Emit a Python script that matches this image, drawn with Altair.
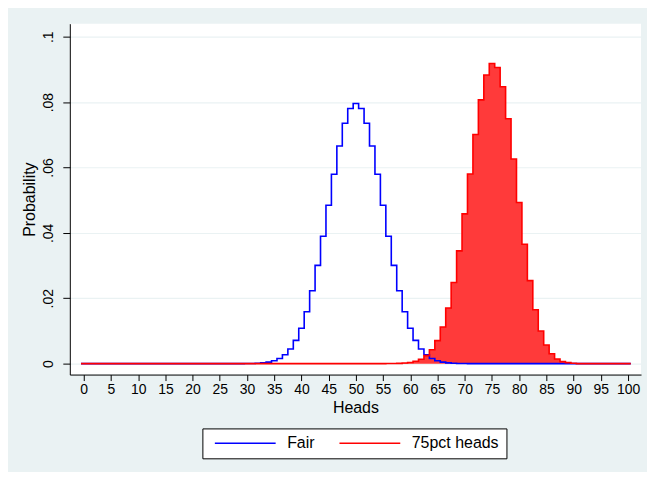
import altair as alt
import pandas as pd

# ---- data ----
heads = list(range(101))

fair = (
    [0.0] * 29
    + [0.00001, 0.000023, 0.000052, 0.000113, 0.000232, 0.000458, 0.000864,
       0.00156, 0.002698, 0.004473, 0.007111, 0.010844, 0.015869, 0.022292,
       0.030069, 0.038953, 0.048474, 0.057958, 0.06659, 0.073527, 0.078028,
       0.079589,
       0.078028, 0.073527, 0.06659, 0.057958, 0.048474, 0.038953, 0.030069,
       0.022292, 0.015869, 0.010844, 0.007111, 0.004473, 0.002698, 0.00156,
       0.000864, 0.000458, 0.000232, 0.000113, 0.000052, 0.000023, 0.00001]
    + [0.0] * 29
)

p75 = (
    [0.0] * 56
    + [0.00002, 0.00004, 0.00008, 0.00018, 0.00036, 0.00071, 0.00135, 0.00244,
       0.00423, 0.00703, 0.0112, 0.0170, 0.0248, 0.0345, 0.0458, 0.0580,
       0.0701, 0.0807, 0.0883, 0.0918, 0.0906, 0.0847, 0.0749, 0.0626,
       0.0493, 0.0365, 0.0254, 0.0165, 0.0100, 0.0057, 0.0030, 0.0014,
       0.0006, 0.0003, 0.0001]
    + [0.0] * 10
)

series_names = ["Fair", "75pct heads"]
x_ticks = list(range(0, 101, 5))
y_ticks = [0, 0.02, 0.04, 0.06, 0.08, 0.1]


def step_rows(name, vals):
    rows = [{"x": k - 0.5, "y": v, "series": name} for k, v in zip(heads, vals)]
    rows.append({"x": heads[-1] + 0.5, "y": vals[-1], "series": name})
    return rows


df_fair = pd.DataFrame(step_rows(series_names[0], fair))
df_p75 = pd.DataFrame(step_rows(series_names[1], p75))

x_scale = alt.Scale(domain=[-2.56, 102.38], nice=False, zero=False)
y_scale = alt.Scale(domain=[-0.00335, 0.104], nice=False, zero=False)

x_axis = alt.Axis(
    values=x_ticks, title="Heads", labelFontSize=14, titleFontSize=16,
    grid=False, domainColor="#000000", tickColor="#000000", tickSize=6,
    labelColor="#000000", titleColor="#000000", labelPadding=2,
    titlePadding=3, titleFontWeight="normal", labelFlush=False,
    labelOverlap=False, tickCount=21,
)
y_axis = alt.Axis(
    values=y_ticks, title="Probability", labelFontSize=14, titleFontSize=16,
    grid=True, gridColor="#eaf2f3", gridWidth=1.2, domainColor="#000000",
    tickColor="#000000", tickSize=7, labelColor="#000000",
    titleColor="#000000", labelAngle=270, labelAlign="center",
    labelBaseline="bottom", labelPadding=7, titlePadding=4,
    titleFontWeight="normal", labelFlush=False, labelOverlap=False,
    labelExpr="replace(format(datum.value, '.2~f'), /^0\\./, '.')",
)

color_scale = alt.Scale(domain=series_names, range=["#0000ff", "#ff0000"])
legend = alt.Legend(
    orient="none", legendX=133, legendY=406, direction="horizontal",
    title=None, symbolType="M-1,0H23.4", symbolSize=25, symbolStrokeWidth=1.5,
    strokeColor="#000000", fillColor="#ffffff", padding=7,
    labelFontSize=16, labelColor="#000000", labelOffset=62,
    columnPadding=19, labelLimit=300,
)

area = alt.Chart(df_p75).mark_area(
    interpolate="step-after", color="#ff3a3a", opacity=1
).encode(
    x=alt.X("x:Q", scale=x_scale, axis=x_axis),
    y=alt.Y("y:Q", scale=y_scale, axis=y_axis),
    y2=alt.datum(0),
)

line_fair = alt.Chart(df_fair).mark_line(
    interpolate="step-after", strokeWidth=1.6
).encode(
    x=alt.X("x:Q", scale=x_scale, axis=x_axis),
    y=alt.Y("y:Q", scale=y_scale, axis=y_axis),
    color=alt.Color("series:N", scale=color_scale, legend=legend),
)

line_p75 = alt.Chart(df_p75).mark_line(
    interpolate="step-after", strokeWidth=1.6
).encode(
    x=alt.X("x:Q", scale=x_scale, axis=x_axis),
    y=alt.Y("y:Q", scale=y_scale, axis=y_axis),
    color=alt.Color("series:N", scale=color_scale, legend=legend),
)

chart = (
    alt.layer(area, line_fair, line_p75)
    .properties(
        width=573, height=352,
        padding={"left": 62, "top": 15, "right": 6, "bottom": 97},
        autosize=alt.AutoSizeParams(type="none"),
        background="#eaf2f3",
    )
    .configure(font="Liberation Sans")
    .configure_view(fill="#ffffff", strokeWidth=0)
)

chart.save("out.html", embed_options={"renderer": "svg", "actions": False})
